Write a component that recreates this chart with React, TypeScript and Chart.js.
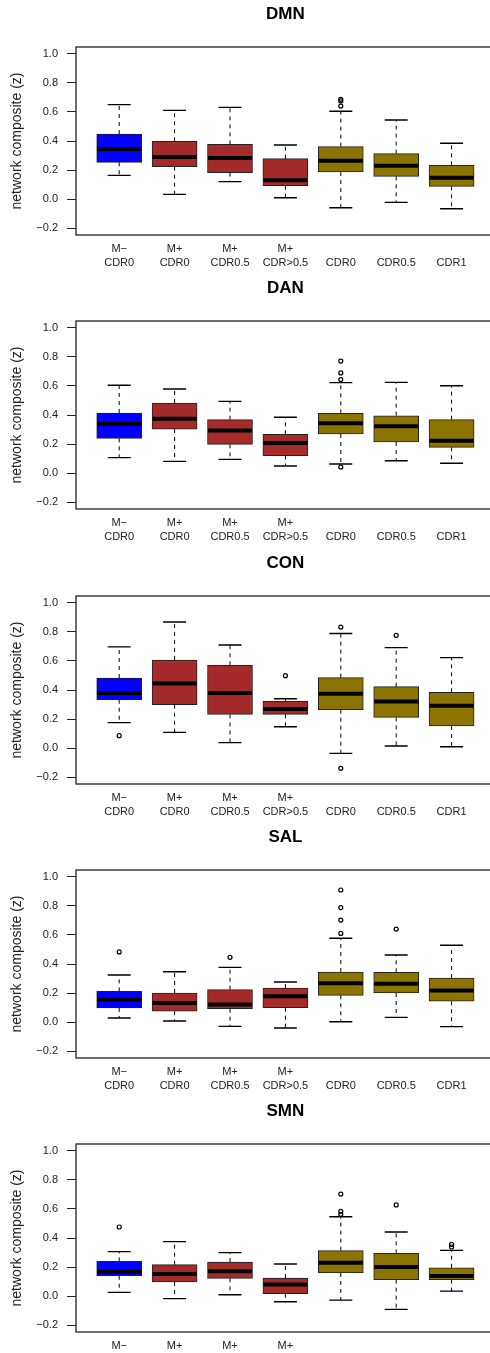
import React, { useEffect, useRef } from 'react';
import { Chart, registerables } from 'chart.js';

Chart.register(...registerables);

const FONT = "'Liberation Sans', Arial, Helvetica, sans-serif";

// ---- data ----
const PANEL_TITLES = ['DMN', 'DAN', 'CON', 'SAL', 'SMN'];
const GROUPS = ['M− CDR0', 'M+ CDR0', 'M+ CDR0.5', 'M+ CDR>0.5', 'CDR0', 'CDR0.5', 'CDR1'];
const X_TICK_LABELS = [
  ['M−', 'CDR0'],
  ['M+', 'CDR0'],
  ['M+', 'CDR0.5'],
  ['M+', 'CDR>0.5'],
  ['', 'CDR0'],
  ['', 'CDR0.5'],
  ['', 'CDR1'],
];
const Y_TICKS = [-0.2, 0, 0.2, 0.4, 0.6, 0.8, 1.0];
const GROUP_COLORS = ['#0000FF', '#A52A2A', '#A52A2A', '#A52A2A', '#8B7500', '#8B7500', '#8B7500'];

// [lower whisker, Q1, median, Q3, upper whisker]
const DMN_STATS = [
  [0.163, 0.253, 0.345, 0.448, 0.651],
  [0.032, 0.223, 0.290, 0.398, 0.611],
  [0.120, 0.182, 0.283, 0.377, 0.632],
  [0.009, 0.092, 0.129, 0.278, 0.372],
  [-0.060, 0.186, 0.264, 0.361, 0.605],
  [-0.023, 0.156, 0.230, 0.313, 0.545],
  [-0.067, 0.087, 0.147, 0.232, 0.384],
];
const DMN_OUTLIERS = [[5, 0.687], [5, 0.676], [5, 0.641]];

const DAN_STATS = [
  [0.106, 0.239, 0.338, 0.414, 0.605],
  [0.080, 0.303, 0.375, 0.483, 0.579],
  [0.094, 0.198, 0.294, 0.368, 0.494],
  [0.048, 0.120, 0.207, 0.267, 0.384],
  [0.062, 0.269, 0.343, 0.411, 0.623],
  [0.085, 0.214, 0.322, 0.395, 0.625],
  [0.067, 0.177, 0.223, 0.368, 0.602],
];
const DAN_OUTLIERS = [[5, 0.772], [5, 0.690], [5, 0.644], [5, 0.041]];

const CON_STATS = [
  [0.175, 0.333, 0.379, 0.483, 0.697],
  [0.108, 0.299, 0.444, 0.607, 0.869],
  [0.037, 0.232, 0.379, 0.570, 0.710],
  [0.147, 0.232, 0.269, 0.322, 0.340],
  [-0.037, 0.264, 0.375, 0.485, 0.789],
  [0.014, 0.211, 0.320, 0.423, 0.692],
  [0.009, 0.152, 0.292, 0.384, 0.623],
];
const CON_OUTLIERS = [[1, 0.085], [4, 0.499], [5, 0.834], [5, -0.140], [6, 0.777]];

const SAL_STATS = [
  [0.028, 0.097, 0.156, 0.211, 0.324],
  [0.007, 0.074, 0.131, 0.200, 0.347],
  [-0.030, 0.092, 0.120, 0.223, 0.377],
  [-0.041, 0.099, 0.177, 0.234, 0.276],
  [0.002, 0.184, 0.267, 0.345, 0.577],
  [0.032, 0.200, 0.264, 0.343, 0.462],
  [-0.032, 0.143, 0.218, 0.303, 0.529],
];
const SAL_OUTLIERS = [[1, 0.483], [3, 0.446], [5, 0.910], [5, 0.789], [5, 0.703], [5, 0.611], [6, 0.641]];

const SMN_STATS = [
  [0.025, 0.140, 0.166, 0.239, 0.306],
  [-0.018, 0.097, 0.152, 0.216, 0.375],
  [0.009, 0.122, 0.170, 0.234, 0.299],
  [-0.039, 0.016, 0.080, 0.124, 0.221],
  [-0.028, 0.159, 0.230, 0.313, 0.547],
  [-0.092, 0.113, 0.200, 0.294, 0.441],
  [0.034, 0.113, 0.138, 0.195, 0.315],
];
const SMN_OUTLIERS = [[1, 0.476], [5, 0.703], [5, 0.584], [5, 0.563], [6, 0.628], [7, 0.356], [7, 0.338]];

const PANEL_STATS = [DMN_STATS, DAN_STATS, CON_STATS, SAL_STATS, SMN_STATS];
const PANEL_OUTLIERS = [DMN_OUTLIERS, DAN_OUTLIERS, CON_OUTLIERS, SAL_OUTLIERS, SMN_OUTLIERS];
const PANEL_HEIGHTS = [274, 275, 274, 274, 275];

const BOX_PX = 45;
const STAPLE_PX = 23;
const CANVAS_W = 500;
const PLOT_TOP = 47;
const PLOT_BOTTOM = 235;

const fmt = (v: number) => {
  const s = Math.abs(v) < 1e-9 ? '0.0' : v.toFixed(1);
  return s.replace('-', '−');
};

function BoxPanel({ title, stats, outliers, height }: { title: string; stats: number[][]; outliers: number[][]; height: number }) {
  const ref = useRef<HTMLCanvasElement>(null);
  useEffect(() => {
    if (!ref.current) return;
    const boxParts = {
      id: 'boxParts',
      afterDatasetsDraw(chart: any) {
        const { ctx, chartArea, scales } = chart;
        const x = scales.x;
        const y = scales.y;
        ctx.save();
        stats.forEach((s, i) => {
          const cx = x.getPixelForValue(i + 1);
          const [lo, q1, med, q3, hi] = s;
          const pLo = y.getPixelForValue(lo);
          const pQ1 = y.getPixelForValue(q1);
          const pMed = y.getPixelForValue(med);
          const pQ3 = y.getPixelForValue(q3);
          const pHi = y.getPixelForValue(hi);
          // dashed whiskers
          ctx.strokeStyle = '#000';
          ctx.lineWidth = 1;
          ctx.setLineDash([4, 4]);
          ctx.beginPath();
          ctx.moveTo(cx, pQ3);
          ctx.lineTo(cx, pHi);
          ctx.stroke();
          ctx.beginPath();
          ctx.moveTo(cx, pQ1);
          ctx.lineTo(cx, pLo);
          ctx.stroke();
          ctx.setLineDash([]);
          // staples
          ctx.lineWidth = 1.4;
          ctx.beginPath();
          ctx.moveTo(cx - STAPLE_PX / 2, pHi);
          ctx.lineTo(cx + STAPLE_PX / 2, pHi);
          ctx.moveTo(cx - STAPLE_PX / 2, pLo);
          ctx.lineTo(cx + STAPLE_PX / 2, pLo);
          ctx.stroke();
          // median
          ctx.lineWidth = 4;
          ctx.beginPath();
          ctx.moveTo(cx - BOX_PX / 2 + 0.5, pMed);
          ctx.lineTo(cx + BOX_PX / 2 - 0.5, pMed);
          ctx.stroke();
        });
        // plot frame
        ctx.lineWidth = 1.3;
        ctx.strokeStyle = '#222';
        ctx.strokeRect(chartArea.left, chartArea.top, chartArea.right - chartArea.left, chartArea.bottom - chartArea.top);
        ctx.restore();
      },
    };

    const chart = new Chart(ref.current, {
      type: 'bar',
      data: {
        datasets: [
          {
            type: 'bar',
            data: stats.map((s, i) => ({ x: i + 1, y: [s[1], s[3]] })) as any,
            backgroundColor: GROUP_COLORS,
            borderColor: '#222',
            borderWidth: 1,
            borderSkipped: false,
            barThickness: BOX_PX,
          } as any,
          {
            type: 'scatter',
            data: outliers.map(([g, v]) => ({ x: g, y: v })),
            pointStyle: 'circle',
            pointRadius: 2.0,
            pointBorderWidth: 1.2,
            pointBorderColor: '#000',
            pointBackgroundColor: 'rgba(0,0,0,0)',
            showLine: false,
          } as any,
        ],
      },
      options: {
        animation: false,
        responsive: false,
        devicePixelRatio: 1,
        events: [],
        layout: { padding: { left: 0, right: 1, top: 0, bottom: 0 } },
        plugins: {
          legend: { display: false },
          tooltip: { enabled: false },
          title: {
            display: true,
            text: title,
            fullSize: false,
            color: '#000',
            font: { family: FONT, size: 17, weight: 'bold' },
            padding: { top: 4, bottom: PLOT_TOP - 4 - 17 * 1.2 },
          },
        },
        scales: {
          x: {
            type: 'linear',
            min: 0.22,
            max: 7.78,
            offset: false,
            grid: { display: false, drawTicks: false },
            border: { display: false },
            afterBuildTicks: (s: any) => {
              s.ticks = GROUPS.map((_, i) => ({ value: i + 1 }));
            },
            afterFit: (s: any) => {
              s.height = height - PLOT_BOTTOM;
            },
            ticks: {
              autoSkip: false,
              maxRotation: 0,
              minRotation: 0,
              padding: 7,
              color: '#222',
              font: { family: FONT, size: 11, lineHeight: 14 / 11 },
              callback: (_v: any, i: number) => X_TICK_LABELS[i],
            },
          },
          y: {
            type: 'linear',
            min: -0.248,
            max: 1.048,
            afterBuildTicks: (s: any) => {
              s.ticks = Y_TICKS.map((v) => ({ value: v }));
            },
            afterFit: (s: any) => {
              s.width = 76;
            },
            grid: { display: true, drawOnChartArea: false, drawTicks: true, tickLength: 9, tickColor: '#222', tickWidth: 1 },
            border: { display: false },
            ticks: {
              padding: 9,
              color: '#222',
              font: { family: FONT, size: 11 },
              callback: (v: any) => fmt(Number(v)),
            },
            title: {
              display: true,
              text: 'network composite (z)',
              color: '#222',
              font: { family: FONT, size: 14 },
              padding: { top: 9, bottom: 0 },
            },
          },
        },
      } as any,
      plugins: [boxParts],
    });
    return () => chart.destroy();
  }, [title, stats, outliers, height]);

  return <canvas ref={ref} width={CANVAS_W} height={height} style={{ display: 'block' }} />;
}

export default function App() {
  return (
    <div
      style={{
        position: 'absolute',
        left: 0,
        top: 0,
        width: 490,
        height: 1353,
        overflow: 'hidden',
        background: '#fff',
      }}
    >
      {PANEL_TITLES.map((t, i) => (
        <BoxPanel key={t} title={t} stats={PANEL_STATS[i]} outliers={PANEL_OUTLIERS[i]} height={PANEL_HEIGHTS[i]} />
      ))}
    </div>
  );
}
